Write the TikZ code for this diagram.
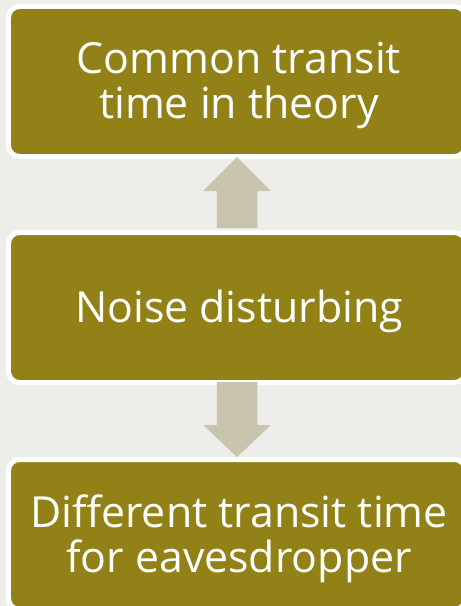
\documentclass[tikz,border=0pt]{standalone}
\usepackage{fontspec}
\setmainfont{Open Sans}
\usetikzlibrary{calc}
\definecolor{olive}{RGB}{146,129,22}
\definecolor{arrowtan}{RGB}{200,196,174}
\definecolor{paper}{RGB}{237,237,233}
\tikzset{
  stagebox/.style={draw=white, line width=5bp, fill=olive, rounded corners=11bp,
    minimum width=457bp, minimum height=150bp},
  stagetext/.style={text=white, align=center, inner sep=0pt,
    font=\fontsize{43}{45.6}\selectfont},
  blockarrow/.style={fill=arrowtan}
}
\begin{document}
\begin{tikzpicture}[x=1bp,y=-1bp]
  % page background
  \fill[paper] (0,0) rectangle (461,606);
  \useasboundingbox (0,0) rectangle (461,606);
  \begin{scope}
    \clip (0,0) rectangle (461,606);
    % three stages
    \node[stagebox] (theory) at (237,81.5) {};
    \node[stagebox] (noise) at (237,307.5) {};
    \node[stagebox] (eve) at (237,534.5) {};
    \node[stagetext] (theorytext) at ($(theory.center)+(2,4)$) {Common transit\\time in theory};
    \node[stagetext] (noisetext) at ($(noise.center)+(2,4)$) {Noise disturbing};
    \node[stagetext] (evetext) at ($(eve.center)+(2,4)$) {Different transit time\\for eavesdropper};
    % block arrow: noise -> theory (up)
    \fill[blockarrow]
      ($(noise.north)+(-20.25,-2)$) -- ($(theory.south)+(-20.25,32)$) --
      ($(theory.south)+(-33.85,32)$) -- ($(theory.south)+(0,-2)$) --
      ($(theory.south)+(33.85,32)$) -- ($(theory.south)+(20.25,32)$) --
      ($(noise.north)+(20.25,-2)$) -- cycle;
    % block arrow: noise -> eavesdropper (down)
    \fill[blockarrow]
      ($(noise.south)+(-20.25,-3)$) -- ($(eve.north)+(-20.25,-32)$) --
      ($(eve.north)+(-33.85,-32)$) -- ($(eve.north)+(0,0)$) --
      ($(eve.north)+(33.85,-32)$) -- ($(eve.north)+(20.25,-32)$) --
      ($(noise.south)+(20.25,-3)$) -- cycle;
  \end{scope}
\end{tikzpicture}
\end{document}
